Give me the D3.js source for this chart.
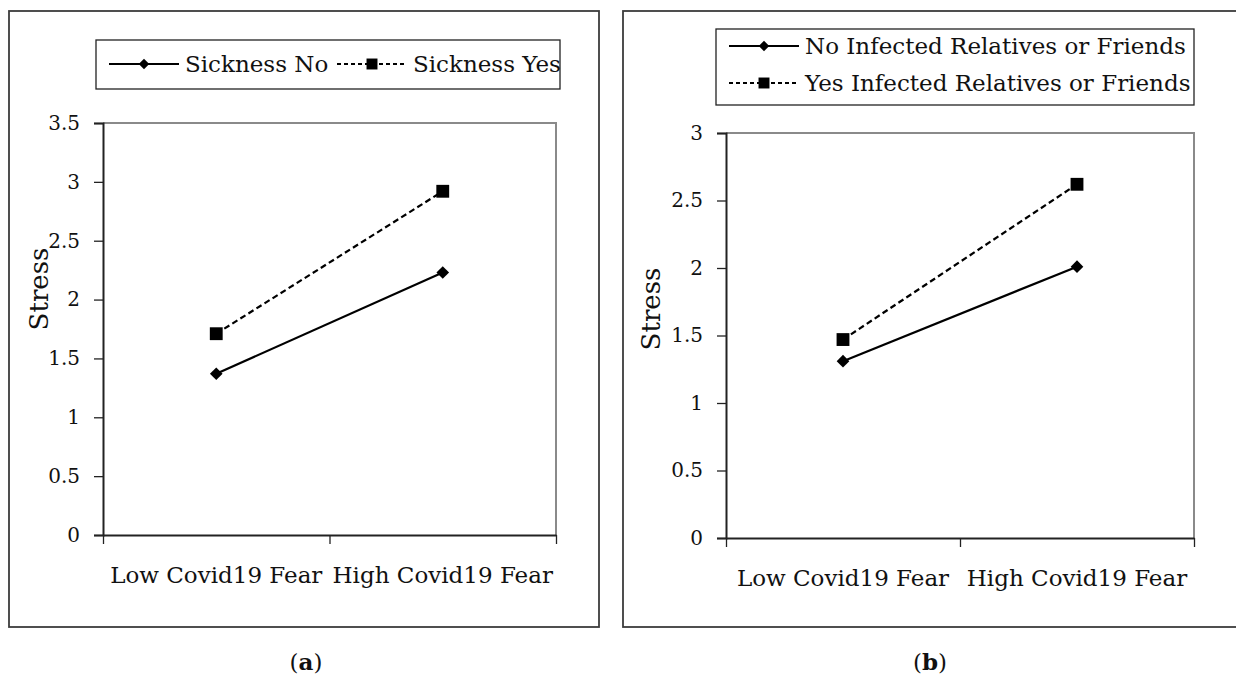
<!DOCTYPE html>
<html>

<head>
    <meta charset="utf-8">
    <style>
        body {
            margin: 0;
            background: white;
        }

        svg {
            display: block;
            font-family: 'DejaVu Serif', 'Liberation Serif', serif;
        }

        .tick text {
            font-family: 'DejaVu Serif', 'Liberation Serif', serif;
        }
    </style>
</head>

<body>
    <svg width="1236" height="680"></svg>
</body>

<script src="https://d3js.org/d3.v7.min.js"></script>

<script>
    // values
    let categories = ["Low Covid19 Fear", "High Covid19 Fear"];

    let sicknessNo = [1.37, 2.23];
    let sicknessYes = [1.71, 2.92];

    let relativesNo = [1.31, 2.01];
    let relativesYes = [1.47, 2.62];

    let ticksA = [0, 0.5, 1, 1.5, 2, 2.5, 3, 3.5];
    let ticksB = [0, 0.5, 1, 1.5, 2, 2.5, 3];

    let legendA = ["Sickness No", "Sickness Yes"];
    let legendB = ["No Infected Relatives or Friends", "Yes Infected Relatives or Friends"];

    let captions = ["a", "b"];

    let svg = d3.select("svg");

    svg.append("rect")
        .attr("width", 1236)
        .attr("height", 680)
        .attr("fill", "white");

    let diamond = d3.symbol().type(d3.symbolSquare);
    let square = d3.symbol().type(d3.symbolSquare);

    function drawPanel(p) {
        let g = svg.append("g");

        // outer frame
        g.append("rect")
            .attr("x", p.frame[0])
            .attr("y", p.frame[1])
            .attr("width", p.frame[2])
            .attr("height", p.frame[3])
            .attr("fill", "none")
            .attr("stroke", "#3c3c3c")
            .attr("stroke-width", 1.8);

        let y = d3.scaleLinear()
            .domain([0, d3.max(p.ticks)])
            .range([p.bottom, p.top]);

        // point scale for the data, linear one for the ticks between categories
        let x = d3.scalePoint()
            .domain(categories)
            .range([p.left, p.right])
            .padding(0.5);

        let xTicks = d3.scaleLinear()
            .domain([0, categories.length])
            .range([p.left, p.right]);

        // grey plot area border (top / right)
        g.append("path")
            .attr("d", `M${p.left},${p.top}H${p.right}V${p.bottom}`)
            .attr("fill", "none")
            .attr("stroke", "#8a8a8a")
            .attr("stroke-width", 2);

        // y axis
        let yAxis = g.append("g")
            .attr("transform", `translate(${p.left},0)`)
            .call(d3.axisLeft(y)
                .tickValues(p.ticks)
                .tickSize(9)
                .tickPadding(14)
                .tickFormat(d3.format("")));

        yAxis.select(".domain")
            .attr("stroke", "#222")
            .attr("stroke-width", 2);
        yAxis.selectAll(".tick line")
            .attr("stroke", "#222")
            .attr("stroke-width", 1.3);
        yAxis.selectAll(".tick text")
            .attr("font-size", 20)
            .attr("fill", "#111");

        // x axis
        let xAxis = g.append("g")
            .attr("transform", `translate(0,${p.bottom})`)
            .call(d3.axisBottom(xTicks)
                .tickValues(d3.range(categories.length + 1))
                .tickSize(9)
                .tickSizeOuter(0)
                .tickFormat(""));

        xAxis.select(".domain")
            .attr("stroke", "#222")
            .attr("stroke-width", 2);
        xAxis.selectAll(".tick line")
            .attr("stroke", "#222")
            .attr("stroke-width", 1.3);

        g.selectAll(".cat")
            .data(categories)
            .join("text")
            .attr("class", "cat")
            .attr("x", d => x(d))
            .attr("y", p.bottom + 48)
            .attr("text-anchor", "middle")
            .attr("font-size", 23)
            .attr("fill", "#111")
            .text(d => d);

        // y title
        g.append("text")
            .attr("transform", `translate(${p.titleX},${p.titleY}) rotate(-90)`)
            .attr("text-anchor", "middle")
            .attr("font-size", 26)
            .attr("fill", "#111")
            .text("Stress");

        // lines
        let line = d3.line()
            .x((d, i) => x(categories[i]))
            .y(d => y(d));

        g.append("path")
            .datum(p.series[0])
            .attr("d", line)
            .attr("fill", "none")
            .attr("stroke", "black")
            .attr("stroke-width", 2.2);

        g.append("path")
            .datum(p.series[1])
            .attr("d", line)
            .attr("fill", "none")
            .attr("stroke", "black")
            .attr("stroke-width", 2.2)
            .attr("stroke-dasharray", "6,3.5");

        g.selectAll(".dia")
            .data(p.series[0])
            .join("path")
            .attr("class", "dia")
            .attr("d", diamond.size(80))
            .attr("transform", (d, i) => `translate(${x(categories[i])},${y(d)}) rotate(45)`)
            .attr("fill", "black");

        g.selectAll(".sq")
            .data(p.series[1])
            .join("path")
            .attr("class", "sq")
            .attr("d", square.size(165))
            .attr("transform", (d, i) => `translate(${x(categories[i])},${y(d)})`)
            .attr("fill", "black");

        // LEGEND --------
        let lg = g.append("g");

        lg.append("rect")
            .attr("x", p.legend.x)
            .attr("y", p.legend.y)
            .attr("width", p.legend.w)
            .attr("height", p.legend.h)
            .attr("fill", "white")
            .attr("stroke", "#222")
            .attr("stroke-width", 1.3);

        let items = lg.selectAll(".item")
            .data(p.labels)
            .join("g")
            .attr("class", "item")
            .attr("transform", (d, i) => `translate(${p.legend.items[i][0]},${p.legend.items[i][1]})`);

        items.append("line")
            .attr("x1", 0)
            .attr("x2", 70)
            .attr("stroke", "black")
            .attr("stroke-width", 2)
            .attr("stroke-dasharray", (d, i) => i ? "4,3" : null);

        items.append("path")
            .attr("d", (d, i) => i ? square.size(120)() : diamond.size(55)())
            .attr("transform", (d, i) => i ? "translate(35,0)" : "translate(35,0) rotate(45)")
            .attr("fill", "black");

        items.append("text")
            .attr("x", 76)
            .attr("y", 8)
            .attr("font-size", 23)
            .attr("fill", "#111")
            .text(d => d);

        // caption
        let cap = svg.append("text")
            .attr("x", p.captionX)
            .attr("y", 670)
            .attr("text-anchor", "middle")
            .attr("font-size", 23)
            .attr("fill", "#111");
        cap.append("tspan").text("(");
        cap.append("tspan").attr("font-weight", "bold").text(p.caption);
        cap.append("tspan").text(")");
    }

    drawPanel({
        frame: [9, 11, 590, 616],
        left: 103, right: 556, top: 123, bottom: 535,
        ticks: ticksA,
        series: [sicknessNo, sicknessYes],
        labels: legendA,
        legend: { x: 96, y: 40, w: 464, h: 49, items: [[109, 64], [337, 64]] },
        titleX: 48, titleY: 289,
        caption: captions[0], captionX: 306
    });

    drawPanel({
        frame: [623, 11, 630, 616],
        left: 726, right: 1194, top: 133, bottom: 538,
        ticks: ticksB,
        series: [relativesNo, relativesYes],
        labels: legendB,
        legend: { x: 716, y: 29, w: 478, h: 76, items: [[729, 46], [729, 83]] },
        titleX: 660, titleY: 309,
        caption: captions[1], captionX: 930
    });
</script>

</html>
